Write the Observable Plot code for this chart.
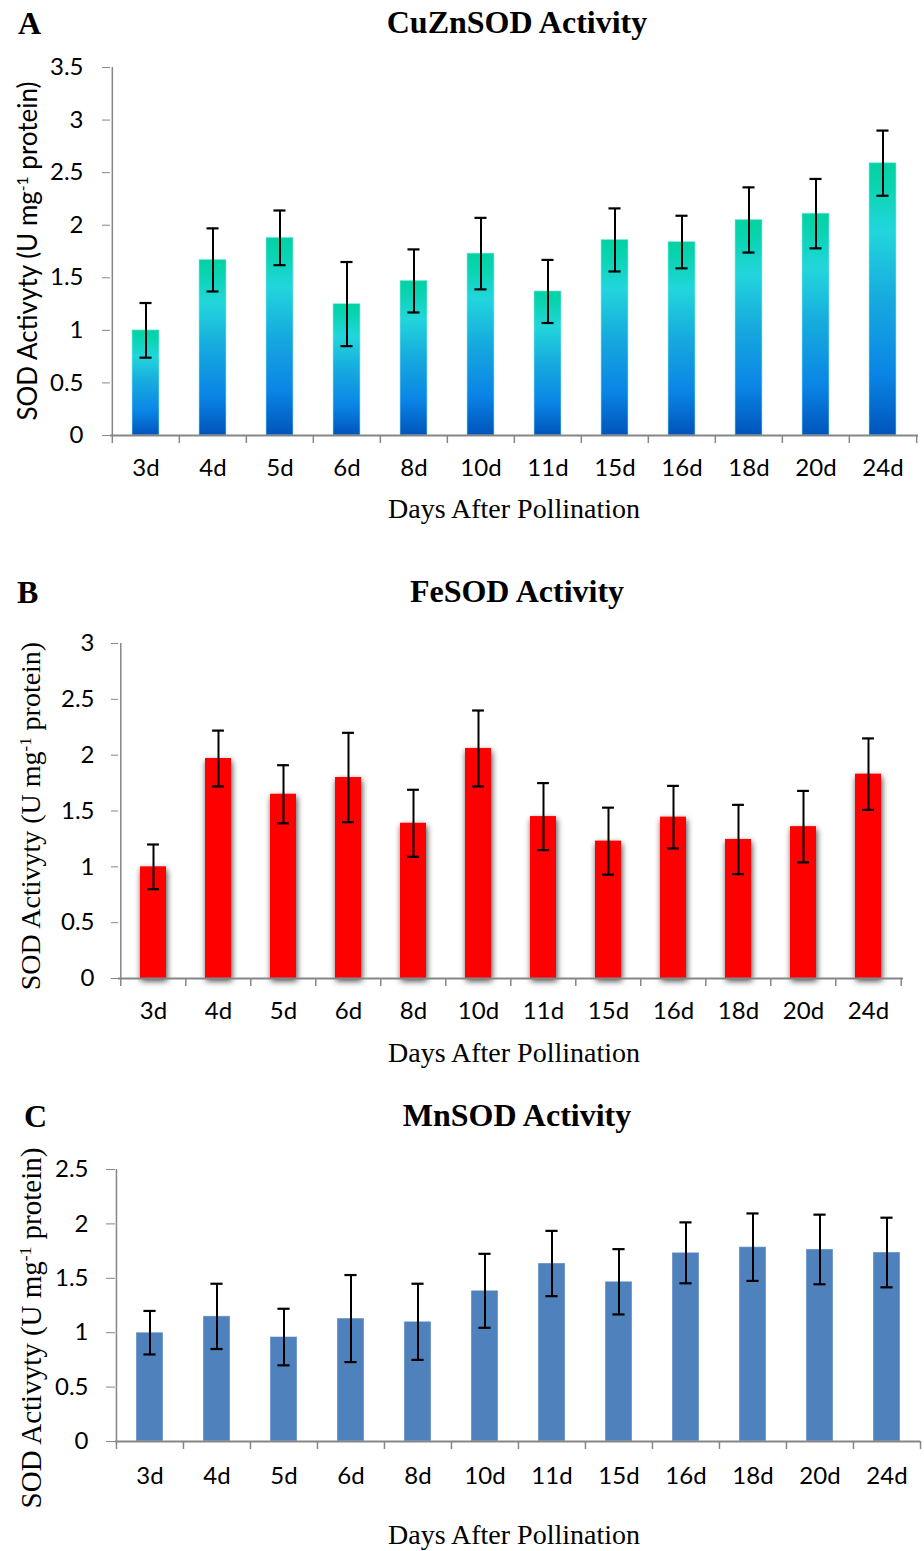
<!DOCTYPE html>
<html>
<head>
<meta charset="utf-8">
<script src="https://cdn.jsdelivr.net/npm/d3@7"></script>
<script src="https://cdn.jsdelivr.net/npm/@observablehq/plot@0.6"></script>
<style>
  html, body { margin: 0; padding: 0; background: #fff; }
  #root { position: relative; width: 924px; height: 1551px; overflow: hidden; }
  .abs { position: absolute; white-space: nowrap; color: #000; }
  .panel { font-family: "Liberation Serif", "Times New Roman", serif; font-weight: bold; font-size: 32px; line-height: 1; }
  .title { font-family: "Liberation Serif", "Times New Roman", serif; font-weight: bold; font-size: 32px; line-height: 1; transform: translateX(-50%); }
  .xlab { font-family: "Liberation Serif", "Times New Roman", serif; font-size: 28px; line-height: 1; transform: translateX(-50%); }
  .ylab { line-height: 1; transform: translate(-50%, -50%) rotate(-90deg); }
  .ylab sup { font-size: 60%; vertical-align: 0.55em; line-height: 0; }
  .chart { position: absolute; left: 0; }
  #chartB g[aria-label="bar"] rect { filter: drop-shadow(1px 3px 3px rgba(0,0,0,0.75)); }
</style>
</head>
<body>
<div id="root">
  <div class="abs panel" style="left:18px; top:7px;">A</div>
  <div class="abs title" style="left:517px; top:6px;">CuZnSOD Activity</div>
  <div class="abs panel" style="left:17px; top:576px;">B</div>
  <div class="abs title" style="left:517px; top:575px;">FeSOD Activity</div>
  <div class="abs panel" style="left:24px; top:1100px;">C</div>
  <div class="abs title" style="left:517px; top:1099px;">MnSOD Activity</div>

  <div class="abs xlab" style="left:514px; top:495px;">Days After Pollination</div>
  <div class="abs xlab" style="left:514px; top:1039px;">Days After Pollination</div>
  <div class="abs xlab" style="left:514px; top:1521px;">Days After Pollination</div>

  <div class="abs ylab" style="left:27px; top:251px; font-family: Lato, sans-serif; font-size:26px;">SOD Activyty (U mg<sup>-1</sup> protein)</div>
  <div class="abs ylab" style="left:31px; top:816px; font-family: 'Liberation Serif', serif; font-size:28px;">SOD Activyty (U mg<sup>-1</sup> protein)</div>
  <div class="abs ylab" style="left:31px; top:1328px; font-family: 'Liberation Serif', serif; font-size:29px;">SOD Activyty (U mg<sup>-1</sup> protein)</div>

  <div id="chartA" class="chart" style="top:0px;"></div>
  <div id="chartB" class="chart" style="top:560px;"></div>
  <div id="chartC" class="chart" style="top:1090px;"></div>
</div>
<script>
// ---- data ----
const days = ["3d","4d","5d","6d","8d","10d","11d","15d","16d","18d","20d","24d"];

const cuznMean = [1.00, 1.67, 1.88, 1.25, 1.47, 1.73, 1.37, 1.86, 1.84, 2.05, 2.11, 2.59];
const cuznErr  = [0.26, 0.30, 0.26, 0.40, 0.30, 0.34, 0.30, 0.30, 0.25, 0.31, 0.33, 0.31];

const feMean = [1.00, 1.97, 1.65, 1.80, 1.39, 2.06, 1.45, 1.23, 1.445, 1.245, 1.36, 1.83];
const feErr  = [0.20, 0.25, 0.26, 0.40, 0.30, 0.34, 0.30, 0.30, 0.28, 0.31, 0.32, 0.32];

const mnMean = [1.00, 1.15, 0.96, 1.13, 1.10, 1.385, 1.636, 1.468, 1.734, 1.786, 1.765, 1.737];
const mnErr  = [0.20, 0.30, 0.26, 0.40, 0.35, 0.34, 0.30, 0.30, 0.28, 0.31, 0.32, 0.32];

const ticksA = [0, 0.5, 1, 1.5, 2, 2.5, 3, 3.5];
const ticksB = [0, 0.5, 1, 1.5, 2, 2.5, 3];
const ticksC = [0, 0.5, 1, 1.5, 2, 2.5];

function rows(mean, err) {
  return days.map((d, i) => ({day: d, mean: mean[i], lo: mean[i] - err[i], hi: mean[i] + err[i]}));
}

const axisGray = "#868686";

function makeChart(cfg) {
  const W = 924;
  const step = (W - cfg.ml - cfg.mr) / days.length;
  const half = step / 2;
  const data = rows(cfg.mean, cfg.err);
  const capInset = (step * 0.4 - 12) / 2;
  const chart = Plot.plot({
    width: W,
    height: cfg.height,
    marginTop: cfg.mt,
    marginBottom: cfg.mb,
    marginLeft: cfg.ml,
    marginRight: cfg.mr,
    style: {fontFamily: "Lato, sans-serif", fontSize: "24px", color: "#000", background: "transparent", overflow: "visible"},
    x: {type: "band", domain: days, paddingInner: 0.6, paddingOuter: 0.3, align: 0.5},
    y: {domain: [0, cfg.ymax]},
    marks: [
      Plot.barY(data, {x: "day", y: "mean", fill: cfg.fill, stroke: cfg.barStroke || "none", strokeWidth: 1}),
      // y axis line
      Plot.ruleX([days[0]], {x: d => d, dx: -half, y1: 0, y2: cfg.ymax, stroke: axisGray, strokeWidth: 1.5}),
      // x axis line
      Plot.ruleY([0], {stroke: axisGray, strokeWidth: 2}),
      // category boundary ticks (Excel style)
      Plot.ruleX(days, {x: d => d, dx: -half, y1: 0, y2: 0, insetBottom: -cfg.xtick, stroke: axisGray, strokeWidth: 1.5}),
      Plot.ruleX([days[days.length - 1]], {x: d => d, dx: half, y1: 0, y2: 0, insetBottom: -cfg.xtick, stroke: axisGray, strokeWidth: 1.5}),
      // error bars
      Plot.ruleX(data, {x: "day", y1: "lo", y2: "hi", stroke: "#000", strokeWidth: 2}),
      Plot.tickY(data, {x: "day", y: "hi", stroke: "#000", strokeWidth: 2.2, insetLeft: capInset, insetRight: capInset}),
      Plot.tickY(data, {x: "day", y: "lo", stroke: "#000", strokeWidth: 2.2, insetLeft: capInset, insetRight: capInset}),
      Plot.axisY({ticks: cfg.ticks, tickFormat: d => String(d), tickSize: cfg.ytick, tickPadding: cfg.ypad, stroke: axisGray, fill: "#000", label: null, fontSize: 24}),
      Plot.axisX({tickSize: 0, tickPadding: cfg.xpad, fill: "#000", label: null, fontSize: 24})
    ]
  });
  return chart;
}

// Chart A
const chartA = makeChart({
  mean: cuznMean, err: cuznErr, ymax: 3.5, ticks: ticksA,
  height: 490, mt: 67, mb: 55, ml: 110, mr: 6,
  fill: "url(#cuznGrad)", barStroke: "rgba(150,235,235,0.6)",
  ytick: 8, ypad: 19, xtick: 8, xpad: 23
});
const ns = "http://www.w3.org/2000/svg";
const defs = document.createElementNS(ns, "defs");
const grad = document.createElementNS(ns, "linearGradient");
grad.setAttribute("id", "cuznGrad");
grad.setAttribute("x1", "0"); grad.setAttribute("y1", "0");
grad.setAttribute("x2", "0"); grad.setAttribute("y2", "1");
[["0%", "#03D2A2"], ["8%", "#08D4B0"], ["25%", "#22D6DC"], ["50%", "#16AADE"], ["78%", "#0A84E6"], ["100%", "#0054BA"]].forEach(([o, c]) => {
  const s = document.createElementNS(ns, "stop");
  s.setAttribute("offset", o); s.setAttribute("stop-color", c);
  grad.appendChild(s);
});
defs.appendChild(grad);
chartA.insertBefore(defs, chartA.firstChild);
document.getElementById("chartA").appendChild(chartA);

// Chart B
const chartB = makeChart({
  mean: feMean, err: feErr, ymax: 3, ticks: ticksB,
  height: 470, mt: 83, mb: 52, ml: 118, mr: 21,
  fill: "#FF0000",
  ytick: 7, ypad: 17, xtick: 8, xpad: 23
});
document.getElementById("chartB").appendChild(chartB);

// Chart C
const chartC = makeChart({
  mean: mnMean, err: mnErr, ymax: 2.5, ticks: ticksC,
  height: 400, mt: 79, mb: 49, ml: 115, mr: 4,
  fill: "#4F81BD", barStroke: "rgba(255,255,255,0.4)",
  ytick: 9, ypad: 18, xtick: 8, xpad: 25
});
document.getElementById("chartC").appendChild(chartC);
</script>
</body>
</html>
